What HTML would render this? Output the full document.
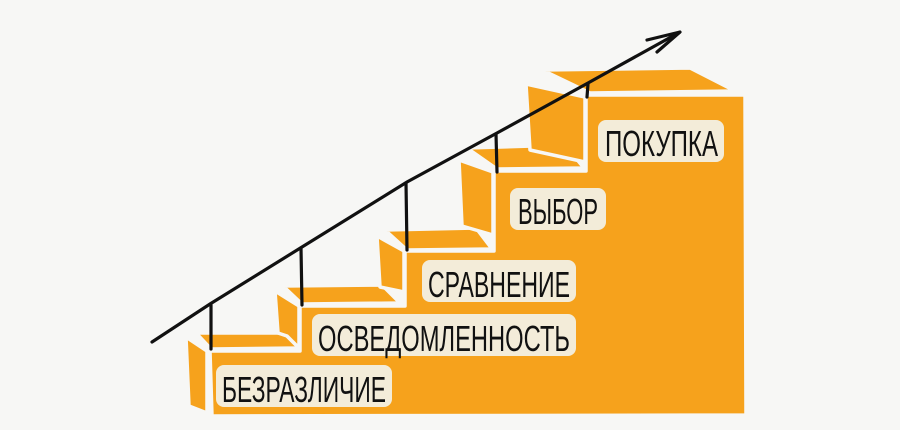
<!DOCTYPE html>
<html><head><meta charset="utf-8"><style>
html,body{margin:0;padding:0;background:#f7f7f5;}
svg{display:block}
text{font-family:"Liberation Sans","DejaVu Sans",sans-serif;fill:#111;}
</style></head><body>
<svg width="900" height="430" viewBox="0 0 900 430" xmlns="http://www.w3.org/2000/svg">
<rect width="900" height="430" fill="#f7f7f5"/>
<g fill="#f6a21c" stroke="#f7f7f5" stroke-width="3.5" stroke-linejoin="round">
<!-- front body -->
<polygon points="210,351 300,351 300,306 405,306 405,251 494,251 494,171 586,171 586,95 745,95 746,415 212,416"/>
<!-- step1 -->
<polygon points="196,333 284,333 299,348 211,349"/>
<polygon points="186,337 207,351 207,413 189,406"/>
<!-- step2 -->
<polygon points="283,286 382,285 400,303 302,304"/>
<polygon points="275,291 299,306 299,348 287,336 278,333"/>
<!-- step3 -->
<polygon points="385,230 476,228 492,249 407,250"/>
<polygon points="377,236 404,251 404,292 380,287"/>
<!-- step4 -->
<polygon points="467,148 565,145 584,168 497,169"/>
<polygon points="459,160 493,172 493,235 462,226"/>
<!-- step5 -->
<polygon points="542,70 690,68 735,91 590,93"/>
<polygon points="526,84 585,97 585,162 530,150"/>
</g>
<!-- label patches -->
<g fill="#f3ecd9">
<rect x="216" y="365" width="176" height="42" rx="8"/>
<rect x="312" y="314" width="264" height="42" rx="8"/>
<rect x="422" y="260" width="154" height="42" rx="8"/>
<rect x="510" y="188" width="96" height="42" rx="8"/>
<rect x="598" y="120" width="126" height="42" rx="8"/>
</g>
<g font-size="36">
<text x="222" y="402" textLength="164" lengthAdjust="spacingAndGlyphs">БЕЗРАЗЛИЧИЕ</text>
<text x="318" y="351" textLength="252" lengthAdjust="spacingAndGlyphs">ОСВЕДОМЛЕННОСТЬ</text>
<text x="428" y="297" textLength="142" lengthAdjust="spacingAndGlyphs">СРАВНЕНИЕ</text>
<text x="518" y="224" textLength="80" lengthAdjust="spacingAndGlyphs">ВЫБОР</text>
<text x="605" y="156" textLength="113" lengthAdjust="spacingAndGlyphs">ПОКУПКА</text>
</g>
<g stroke="#111" stroke-width="3.2" fill="none" stroke-linecap="round">
<path d="M152,342 L210,304 L302,247 L407,182 L497,133 L588,83 L680,32"/>
<path d="M647,40 L680,32 L657,52"/>
<line x1="211" y1="305" x2="211" y2="349"/>
<line x1="301" y1="248" x2="302" y2="305"/>
<line x1="406" y1="183" x2="407" y2="250"/>
<line x1="496" y1="134" x2="497" y2="172"/>
<line x1="588" y1="84" x2="587" y2="97"/>
</g>
</svg>
</body></html>
